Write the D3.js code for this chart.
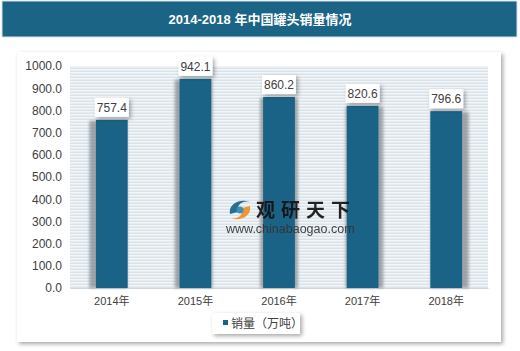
<!DOCTYPE html>
<html>
<head>
<meta charset="utf-8">
<script src="https://cdnjs.cloudflare.com/ajax/libs/d3/7.8.5/d3.min.js"></script>
<style>
  body { margin: 0; background: #fff; }
  svg text { font-family: "Liberation Sans", Arial, "Noto Sans CJK SC", sans-serif; }
</style>
</head>
<body>
<svg id="chart" width="520" height="351"></svg>
<script>
// data
const years = ["2014年", "2015年", "2016年", "2017年", "2018年"];
const sales = [757.4, 942.1, 860.2, 820.6, 796.6];
const yTicks = [0, 100, 200, 300, 400, 500, 600, 700, 800, 900, 1000];
const chartTitle = "2014-2018 年中国罐头销量情况";
const seriesName = "销量（万吨）";

const svg = d3.select("svg#chart");
const width = +svg.attr("width");
const height = +svg.attr("height");
const margin = {top: 66, right: 32, bottom: 63, left: 70};
const barColor = "#1b6386";

let defs = svg.append("defs");

// soft shadow
let sh = defs.append("filter").attr("id", "shadow")
  .attr("x", "-30%").attr("y", "-30%").attr("width", "160%").attr("height", "160%");
sh.append("feGaussianBlur").attr("in", "SourceAlpha").attr("stdDeviation", 2);
sh.append("feOffset").attr("dx", 2).attr("dy", 2).attr("result", "b");
sh.append("feComponentTransfer").append("feFuncA").attr("type", "linear").attr("slope", 0.35);
let m = sh.append("feMerge");
m.append("feMergeNode");
m.append("feMergeNode").attr("in", "SourceGraphic");

let barSh = defs.append("filter").attr("id", "barShadow")
  .attr("x", "-40%").attr("y", "-10%").attr("width", "180%").attr("height", "120%");
barSh.append("feGaussianBlur").attr("stdDeviation", 1.5);

// stripe pattern
let pat = defs.append("pattern").attr("id", "stripes")
  .attr("width", 6).attr("height", 3).attr("patternUnits", "userSpaceOnUse");
pat.append("rect").attr("width", 6).attr("height", 3).attr("fill", "#f3f6f9");
pat.append("rect").attr("y", 1.5).attr("width", 6).attr("height", 1.5).attr("fill", "#dbe3ea");

// title bar
svg.append("rect").attr("x", 2).attr("y", 1).attr("width", 515).attr("height", 36)
  .attr("fill", "#1b6486").attr("stroke", "#d6e4ee").attr("stroke-width", 1);
svg.append("text").attr("x", 260).attr("y", 24).attr("text-anchor", "middle")
  .attr("fill", "#fff").attr("font-size", 13).attr("font-weight", "bold")
  .text(chartTitle);

// white panel
svg.append("rect").attr("x", 17).attr("y", 52).attr("width", 484).attr("height", 290)
  .attr("fill", "#fff").attr("filter", "url(#shadow)");

// scales
const x = d3.scaleBand().domain(years).range([margin.left, width - margin.right])
  .paddingInner(0.62).paddingOuter(0.31);
const y = d3.scaleLinear().domain([0, 1000]).range([height - margin.bottom, margin.top]);

// plot background
svg.append("rect")
  .attr("x", margin.left).attr("y", y(1000))
  .attr("width", width - margin.right - margin.left).attr("height", y(0) - y(1000))
  .attr("fill", "url(#stripes)");

// y axis
let yAxis = svg.append("g").attr("transform", "translate(" + margin.left + ",0)")
  .call(d3.axisLeft(y).tickValues(yTicks).tickSize(0).tickPadding(8).tickFormat(d3.format(".1f")));
yAxis.select(".domain").remove();
yAxis.selectAll("text").attr("font-size", 12).attr("fill", "#404040");

// x axis
let xAxis = svg.append("g").attr("transform", "translate(0," + y(0) + ")")
  .call(d3.axisBottom(x).tickSize(0).tickPadding(9));
xAxis.select(".domain").attr("stroke", "#d0d6dc");
xAxis.selectAll("text").attr("font-size", 11).attr("fill", "#404040");

// bar shadows, then bars
svg.append("g").selectAll("rect").data(sales).join("rect")
  .attr("x", (d, i) => x(years[i]) + (i - 2) * 1.8 - 3)
  .attr("y", d => y(d) + 1)
  .attr("width", x.bandwidth() + 6)
  .attr("height", d => y(0) - y(d) - 1)
  .attr("fill", "#7d8489").attr("opacity", 0.7)
  .attr("filter", "url(#barShadow)");

svg.append("g").selectAll("rect").data(sales).join("rect")
  .attr("x", (d, i) => x(years[i]))
  .attr("y", d => y(d))
  .attr("width", x.bandwidth())
  .attr("height", d => y(0) - y(d))
  .attr("fill", barColor);

// value labels
let lbl = svg.append("g").selectAll("g").data(sales).join("g")
  .attr("transform", (d, i) => "translate(" + (x(years[i]) + x.bandwidth() / 2) + "," + (y(d) - 2) + ")");
lbl.append("rect").attr("x", -17).attr("y", -20).attr("width", 34).attr("height", 19)
  .attr("fill", "#fff").attr("filter", "url(#shadow)");
lbl.append("text").attr("y", -6).attr("text-anchor", "middle")
  .attr("font-size", 12).attr("fill", "#404040").text(d => d.toFixed(1));

// watermark
let wm = svg.append("g").attr("opacity", 0.92);
wm.append("path").attr("d", "M230,214 C228,204 240,198 250,202 C244,200 236,204 238,212 Z").attr("fill", "#1b6486");
wm.append("path").attr("d", "M250,206 C252,216 240,222 230,218 C236,220 244,216 242,208 Z").attr("fill", "#f0901e");
wm.append("circle").attr("cx", 240).attr("cy", 210).attr("r", 3.5).attr("fill", "#2b8bb0");
wm.append("text").attr("x", 256).attr("y", 217).attr("font-size", 19).attr("font-weight", "bold")
  .attr("fill", "#111").attr("letter-spacing", 6).text("观研天下");
wm.append("text").attr("x", 226).attr("y", 233).attr("font-size", 12.5)
  .attr("fill", "#333").text("www.chinabaogao.com");

// legend
let leg = svg.append("g");
leg.append("rect").attr("x", 212).attr("y", 313).attr("width", 88).attr("height", 21)
  .attr("fill", "#fff").attr("filter", "url(#shadow)");
leg.append("rect").attr("x", 223).attr("y", 320).attr("width", 5).attr("height", 5).attr("fill", barColor);
leg.append("text").attr("x", 231).attr("y", 328).attr("font-size", 12).attr("fill", "#404040").text(seriesName);
</script>
</body>
</html>
